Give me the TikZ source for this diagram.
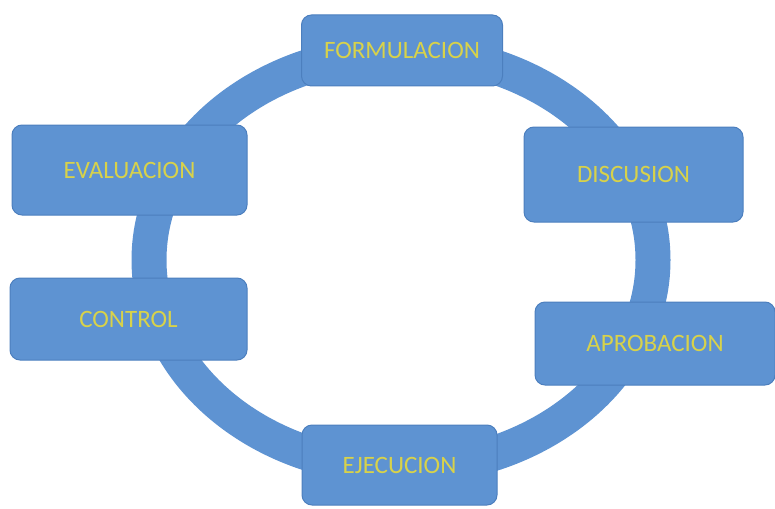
\documentclass[tikz,border=0pt]{standalone}
\usepackage{fontspec}
\setmainfont{Carlito}
\definecolor{boxblue}{HTML}{5E93D2}
\definecolor{edgeblue}{HTML}{4C7FBE}
\definecolor{txtyellow}{HTML}{D8D24A}
\tikzset{
  stagebox/.style={draw=edgeblue, line width=1pt, fill=boxblue, rounded corners=10pt,
    minimum width=#1, inner sep=0pt, font=\fontsize{25}{25}\selectfont, text=txtyellow},
  ringline/.style={draw=boxblue, line width=35pt}
}
\begin{document}
\begin{tikzpicture}[x=1pt,y=-1pt]
\useasboundingbox (0,0) rectangle (775,508);
\coordinate (ctr) at (401,260);
\draw[ringline] (ctr) ellipse [x radius=252, y radius=208];
\node[stagebox=201pt, minimum height=71pt] (form) at (402,50.5) {FORMULACION};
\node[stagebox=235pt, minimum height=90pt] (eval) at (129.5,170) {EVALUACION};
\node[stagebox=219pt, minimum height=95pt] (disc) at (633.5,174.5) {DISCUSION};
\node[stagebox=237pt, minimum height=82pt] (ctrl) at (128.5,319) {CONTROL};
\node[stagebox=240pt, minimum height=83pt] (aprob) at (655,343.5) {APROBACION};
\node[stagebox=195pt, minimum height=80pt] (ejec) at (399.5,465) {EJECUCION};
\end{tikzpicture}
\end{document}
